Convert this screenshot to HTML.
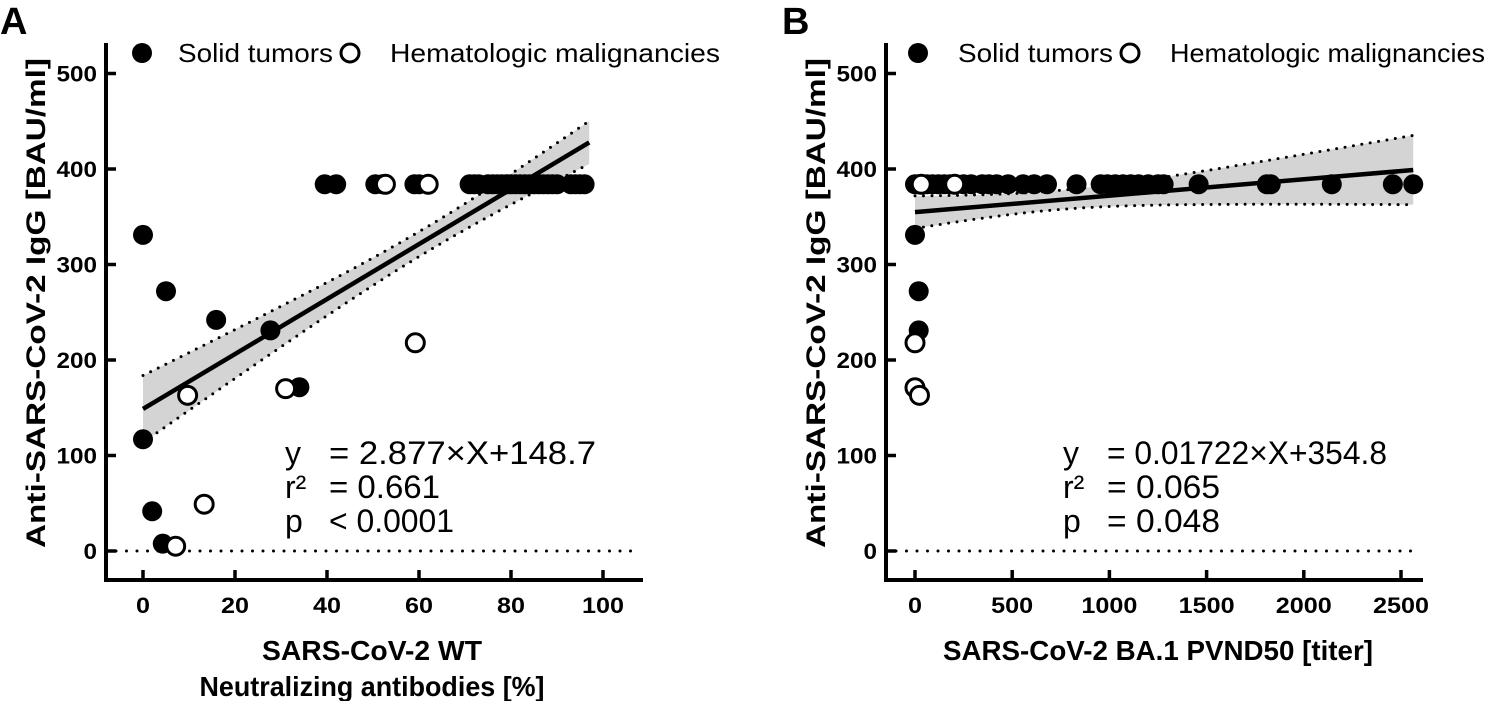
<!DOCTYPE html>
<html><head><meta charset="utf-8"><style>
html,body{margin:0;padding:0;background:#fff;}
svg{display:block;font-family:"Liberation Sans",Arial,sans-serif;}
</style></head><body>
<svg id="chart" width="1499" height="701" viewBox="0 0 1499 701" xmlns="http://www.w3.org/2000/svg">
<text x="0" y="34" font-size="38" font-weight="bold">A</text>
<text x="782" y="34" font-size="38" font-weight="bold">B</text>
</svg>
<script>
// Panel A data
const aSolidX = [0,5,15.9,27.7,34,0,2,4.3,39.5,42,50.5,52,59,60,71,72,73,75,76,77,78,79,80,81,82,83,84,85,86,87,88,89,90,93,94,95,96];
const aSolidY = [331,272,242,231,171.5,117,41.6,7.7,384,384,384,384,384,384,384,384,384,384,384,384,384,384,384,384,384,384,384,384,384,384,384,384,384,384,384,384,384];
const aHemX = [9.7,31,59.2,13.3,7.1,52.7,62];
const aHemY = [163,170,218,49,5,384,384];
const aXTicks = [0,20,40,60,80,100];
const aYTicks = [0,100,200,300,400,500];
const aSlope = 2.877, aIntercept = 148.7, aXMax = 97;
const aCI = {xm:62, wm:13, k:0.275};
// Panel B data
const bSolidX = [0,15,40,60,90,120,150,180,210,250,289,346,380,420,479,556,613,679,831,955,990,1030,1070,1110,1150,1200,1250,1279,1459,1810,1830,2144,2458,2563,0,19,19];
const bSolidY = [384,384,384,384,384,384,384,384,384,384,384,384,384,384,384,384,384,384,384,384,384,384,384,384,384,384,384,384,384,384,384,384,384,384,331,272,231];
const bHemX = [32,204,0,0,23];
const bHemY = [384,384,218,171,163];
const bXTicks = [0,500,1000,1500,2000,2500];
const bYTicks = [0,100,200,300,400,500];
const bSlope = 0.01722, bIntercept = 354.8, bXMax = 2563;
const bCI = {xm:725, wm:10, k:3.6e-4};

const NS = "http://www.w3.org/2000/svg";
const svg = document.getElementById('chart');
function mk(tag, attrs, parent){const e=document.createElementNS(NS,tag);for(const k in attrs)e.setAttribute(k,attrs[k]);(parent||svg).appendChild(e);return e;}

function panel(p){
  const g = mk('g',{});
  
  
  const X = v => p.x0 + v*p.xs;
  const Y = v => 551 - v*0.955;
  const N=60, up=[], lo=[];
  for(let i=0;i<=N;i++){const xv=p.xMax*i/N;const w=Math.sqrt(p.ci.wm*p.ci.wm+p.ci.k*(xv-p.ci.xm)*(xv-p.ci.xm));const yv=p.slope*xv+p.icpt;up.push([X(xv),Y(yv+w)]);lo.push([X(xv),Y(yv-w)]);}
  const band = mk('path',{d:'M'+up.map(q=>q.join(',')).join('L')+'L'+lo.slice().reverse().map(q=>q.join(',')).join('L')+'Z',fill:'#d4d4d4'},g);
  
  
  const cu = mk('polyline',{points:up.map(q=>q.join(',')).join(' '),fill:'none',stroke:'#000','stroke-width':3,'stroke-dasharray':'0 8.5','stroke-linecap':'round'},g);
  
  
  const cl = mk('polyline',{points:lo.map(q=>q.join(',')).join(' '),fill:'none',stroke:'#000','stroke-width':3,'stroke-dasharray':'0 8.5','stroke-linecap':'round'},g);
  
  
  const z = mk('line',{x1:p.ax+10,x2:p.axEnd-5,y1:Y(0),y2:Y(0),stroke:'#000','stroke-width':3,'stroke-dasharray':'0 10.5','stroke-linecap':'round'},g);
  
  
  const rl = mk('line',{x1:X(0),y1:Y(p.icpt),x2:X(p.xMax),y2:Y(p.slope*p.xMax+p.icpt),stroke:'#000','stroke-width':4.5},g);
  
  
  p.sx.forEach((v,i)=>{const c=mk('circle',{cx:X(v),cy:Y(p.sy[i]),r:10,fill:'#000'},g);
    
    });
  p.hx.forEach((v,i)=>{const c=mk('circle',{cx:X(v),cy:Y(p.hy[i]),r:9,fill:'#fff',stroke:'#000','stroke-width':3},g);
    
    });
  const ya = mk('line',{x1:p.ax,x2:p.ax,y1:43,y2:582,stroke:'#000','stroke-width':4},g);
  
  
  const xa = mk('line',{x1:p.ax-2,x2:p.axEnd,y1:580,y2:580,stroke:'#000','stroke-width':4},g);
  
  
  p.yt.forEach(v=>{const t=mk('line',{x1:p.ax,x2:p.ax+10,y1:Y(v),y2:Y(v),stroke:'#000','stroke-width':3.5},g);
    
    
    const s=String(v);
    const l=mk('text',{x:p.ax-9,y:Y(v)+8,'font-size':22,'font-weight':'bold','text-anchor':'end',textLength:s.length*13.5,lengthAdjust:'spacingAndGlyphs'},g);l.textContent=s;
    
    });
  p.xt.forEach(v=>{const t=mk('line',{x1:X(v),x2:X(v),y1:570,y2:580,stroke:'#000','stroke-width':3.5},g);
    
    
    const s=String(v);
    const l=mk('text',{x:X(v),y:613,'font-size':22,'font-weight':'bold','text-anchor':'middle',textLength:s.length*14,lengthAdjust:'spacingAndGlyphs'},g);l.textContent=s;
    
    });
  const yt = mk('text',{x:0,y:0,'font-size':27,'font-weight':'bold','text-anchor':'middle',transform:`translate(${p.ax-61},303) rotate(-90)`,textLength:490,lengthAdjust:'spacingAndGlyphs'},g);
  yt.textContent='Anti-SARS-CoV-2 IgG [BAU/ml]';
  
  
  p.xtitle.forEach((s,i)=>{const t=mk('text',{x:p.xtc,y:660+i*36,'font-size':28,'font-weight':'bold','text-anchor':'middle',textLength:p.xtl[i],lengthAdjust:'spacingAndGlyphs'},g);t.textContent=s;
    
    });
  const l1=mk('circle',{cx:p.lg[0],cy:53,r:10,fill:'#000'},g);
  
  
  const lt1=mk('text',{x:p.lg[1],y:62,'font-size':26,textLength:155,lengthAdjust:'spacingAndGlyphs'},g);lt1.textContent='Solid tumors';
  
  
  const l2=mk('circle',{cx:p.lg[2],cy:53,r:9,fill:'#fff',stroke:'#000','stroke-width':3},g);
  
  
  const lt2=mk('text',{x:p.lg[3],y:62,'font-size':26,textLength:p.lg[4],lengthAdjust:'spacingAndGlyphs'},g);lt2.textContent='Hematologic malignancies';
  
  
  p.eq.forEach((r,i)=>{const a=mk('text',{x:p.eqx,y:464+i*34,'font-size':32},g);a.textContent=r[0];
    
    
    const b=mk('text',{x:p.eqx+44,y:464+i*34,'font-size':32,textLength:p.eqw[i],lengthAdjust:'spacingAndGlyphs'},g);b.textContent=r[1];
    
    });
}
panel({name:'panel-a',x0:143,xs:4.6,ax:106,axEnd:643,ci:aCI,slope:aSlope,icpt:aIntercept,xMax:aXMax,sx:aSolidX,sy:aSolidY,hx:aHemX,hy:aHemY,xt:aXTicks,yt:aYTicks,
  xtitle:['SARS-CoV-2 WT','Neutralizing antibodies [%]'],xtl:[220,345],xtc:372,lg:[142,178,350,390,330],eqx:285,
  eq:[['y','= 2.877×X+148.7'],['r²','= 0.661'],['p','< 0.0001']],eqw:[267,111,125]});
panel({name:'panel-b',x0:915,xs:0.1944,ax:886,axEnd:1423,ci:bCI,slope:bSlope,icpt:bIntercept,xMax:bXMax,sx:bSolidX,sy:bSolidY,hx:bHemX,hy:bHemY,xt:bXTicks,yt:bYTicks,
  xtitle:['SARS-CoV-2 BA.1 PVND50 [titer]'],xtl:[430],xtc:1158,lg:[918,958,1130,1170,315],eqx:1063,
  eq:[['y','= 0.01722×X+354.8'],['r²','= 0.065'],['p','= 0.048']],eqw:[280,113,113]});
</script>
</body></html>
